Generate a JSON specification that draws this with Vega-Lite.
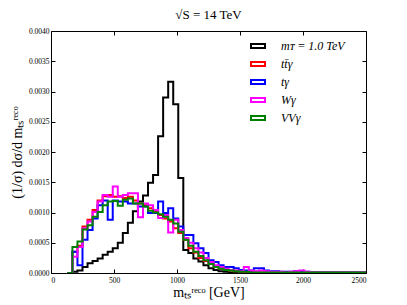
{
"$schema":"https://vega.github.io/schema/vega-lite/v6.json",
"width":315,"height":242,
"autosize":{"type":"none"},
"padding":{"left":51,"top":31,"right":41,"bottom":32},
"title":{"text":"√S = 14 TeV","font":"Liberation Serif","fontSize":13,"fontWeight":"normal","color":"#000","offset":5},
"data":{"values":[
{"s":"K","x":130,"y":0},{"s":"K","x":170,"y":0.00002},{"s":"K","x":210,"y":0.00004},{"s":"K","x":250,"y":0.0001},{"s":"K","x":290,"y":0.00016},{"s":"K","x":330,"y":0.0002},{"s":"K","x":370,"y":0.00024},{"s":"K","x":410,"y":0.0003},{"s":"K","x":450,"y":0.00035},{"s":"K","x":490,"y":0.00041},{"s":"K","x":530,"y":0.0005},{"s":"K","x":570,"y":0.00066},{"s":"K","x":610,"y":0.00083},{"s":"K","x":650,"y":0.00102},{"s":"K","x":690,"y":0.00118},{"s":"K","x":730,"y":0.00128},{"s":"K","x":770,"y":0.00149},{"s":"K","x":810,"y":0.00162},{"s":"K","x":850,"y":0.00226},{"s":"K","x":890,"y":0.0029},{"s":"K","x":930,"y":0.00316},{"s":"K","x":970,"y":0.00279},{"s":"K","x":1010,"y":0.00157},{"s":"K","x":1050,"y":0.00038},{"s":"K","x":1090,"y":0.00033},{"s":"K","x":1130,"y":0.00024},{"s":"K","x":1170,"y":0.00019},{"s":"K","x":1210,"y":0.00013},{"s":"K","x":1250,"y":0.00008},{"s":"K","x":1290,"y":0.00005},{"s":"K","x":1330,"y":0.00003},{"s":"K","x":1370,"y":0.00002},{"s":"K","x":1410,"y":0.00001},{"s":"K","x":1450,"y":0},{"s":"K","x":2500,"y":0},
{"s":"R","x":130,"y":0},{"s":"R","x":170,"y":0.00035},{"s":"R","x":210,"y":0.00045},{"s":"R","x":250,"y":0.00077},{"s":"R","x":290,"y":0.00088},{"s":"R","x":330,"y":0.00104},{"s":"R","x":370,"y":0.0012},{"s":"R","x":410,"y":0.00127},{"s":"R","x":450,"y":0.00129},{"s":"R","x":490,"y":0.00126},{"s":"R","x":530,"y":0.00127},{"s":"R","x":570,"y":0.00124},{"s":"R","x":610,"y":0.00126},{"s":"R","x":650,"y":0.0012},{"s":"R","x":690,"y":0.00115},{"s":"R","x":730,"y":0.00112},{"s":"R","x":770,"y":0.00107},{"s":"R","x":810,"y":0.00101},{"s":"R","x":850,"y":0.00096},{"s":"R","x":890,"y":0.0009},{"s":"R","x":930,"y":0.00085},{"s":"R","x":970,"y":0.00074},{"s":"R","x":1010,"y":0.00066},{"s":"R","x":1050,"y":0.00055},{"s":"R","x":1090,"y":0.00041},{"s":"R","x":1130,"y":0.00034},{"s":"R","x":1170,"y":0.00025},{"s":"R","x":1210,"y":0.0002},{"s":"R","x":1250,"y":0.00015},{"s":"R","x":1290,"y":0.0001},{"s":"R","x":1330,"y":0.00007},{"s":"R","x":1370,"y":0.00005},{"s":"R","x":1410,"y":0.00004},{"s":"R","x":1450,"y":0.00003},{"s":"R","x":1490,"y":0.00003},{"s":"R","x":1530,"y":0.00002},{"s":"R","x":1570,"y":0.00002},{"s":"R","x":1610,"y":0.00002},{"s":"R","x":1650,"y":0.00001},{"s":"R","x":2490,"y":0.00001},{"s":"R","x":2500,"y":0},
{"s":"B","x":130,"y":0},{"s":"B","x":170,"y":0.00035},{"s":"B","x":210,"y":0.00013},{"s":"B","x":250,"y":0.00055},{"s":"B","x":290,"y":0.00071},{"s":"B","x":330,"y":0.0009},{"s":"B","x":370,"y":0.00112},{"s":"B","x":410,"y":0.0012},{"s":"B","x":450,"y":0.00088},{"s":"B","x":490,"y":0.0012},{"s":"B","x":530,"y":0.00118},{"s":"B","x":570,"y":0.00118},{"s":"B","x":610,"y":0.00115},{"s":"B","x":650,"y":0.00115},{"s":"B","x":690,"y":0.0011},{"s":"B","x":730,"y":0.0011},{"s":"B","x":770,"y":0.00099},{"s":"B","x":810,"y":0.00099},{"s":"B","x":850,"y":0.00118},{"s":"B","x":890,"y":0.00099},{"s":"B","x":930,"y":0.00107},{"s":"B","x":970,"y":0.0009},{"s":"B","x":1010,"y":0.00077},{"s":"B","x":1050,"y":0.00063},{"s":"B","x":1090,"y":0.00063},{"s":"B","x":1130,"y":0.00049},{"s":"B","x":1170,"y":0.00041},{"s":"B","x":1210,"y":0.00033},{"s":"B","x":1250,"y":0.00021},{"s":"B","x":1290,"y":0.00018},{"s":"B","x":1330,"y":0.00013},{"s":"B","x":1370,"y":0.0001},{"s":"B","x":1410,"y":0.0001},{"s":"B","x":1450,"y":0.00008},{"s":"B","x":1490,"y":0.00005},{"s":"B","x":1530,"y":0.00004},{"s":"B","x":1570,"y":0.00004},{"s":"B","x":1610,"y":0.00008},{"s":"B","x":1650,"y":0.00008},{"s":"B","x":1690,"y":0.00004},{"s":"B","x":1730,"y":0.00003},{"s":"B","x":1770,"y":0.00003},{"s":"B","x":1810,"y":0.00002},{"s":"B","x":1850,"y":0.00002},{"s":"B","x":1890,"y":0.00002},{"s":"B","x":1930,"y":0.00003},{"s":"B","x":1970,"y":0.00002},{"s":"B","x":2010,"y":0.00002},{"s":"B","x":2050,"y":0.00001},{"s":"B","x":2490,"y":0.00001},{"s":"B","x":2500,"y":0},
{"s":"M","x":130,"y":0},{"s":"M","x":170,"y":0.00027},{"s":"M","x":210,"y":0.00043},{"s":"M","x":250,"y":0.00074},{"s":"M","x":290,"y":0.00085},{"s":"M","x":330,"y":0.00101},{"s":"M","x":370,"y":0.00118},{"s":"M","x":410,"y":0.00129},{"s":"M","x":450,"y":0.00126},{"s":"M","x":490,"y":0.00143},{"s":"M","x":530,"y":0.00126},{"s":"M","x":570,"y":0.00129},{"s":"M","x":610,"y":0.00132},{"s":"M","x":650,"y":0.00132},{"s":"M","x":690,"y":0.00092},{"s":"M","x":730,"y":0.00115},{"s":"M","x":770,"y":0.00112},{"s":"M","x":810,"y":0.00104},{"s":"M","x":850,"y":0.00091},{"s":"M","x":890,"y":0.00096},{"s":"M","x":930,"y":0.00067},{"s":"M","x":970,"y":0.00088},{"s":"M","x":1010,"y":0.00071},{"s":"M","x":1050,"y":0.00058},{"s":"M","x":1090,"y":0.0005},{"s":"M","x":1130,"y":0.00041},{"s":"M","x":1170,"y":0.00034},{"s":"M","x":1210,"y":0.00025},{"s":"M","x":1250,"y":0.00018},{"s":"M","x":1290,"y":0.00013},{"s":"M","x":1330,"y":0.0001},{"s":"M","x":1370,"y":0.00007},{"s":"M","x":1410,"y":0.00005},{"s":"M","x":1450,"y":0.00004},{"s":"M","x":1490,"y":0.00003},{"s":"M","x":1530,"y":0.0001},{"s":"M","x":1570,"y":0.00004},{"s":"M","x":1610,"y":0.00003},{"s":"M","x":1650,"y":0.00004},{"s":"M","x":1690,"y":0.00003},{"s":"M","x":1730,"y":0.00002},{"s":"M","x":1770,"y":0.00002},{"s":"M","x":1810,"y":0.00002},{"s":"M","x":1850,"y":0.00001},{"s":"M","x":1890,"y":0.00002},{"s":"M","x":1930,"y":0.00003},{"s":"M","x":1970,"y":0.00004},{"s":"M","x":2010,"y":0.00002},{"s":"M","x":2050,"y":0.00001},{"s":"M","x":2490,"y":0.00001},{"s":"M","x":2500,"y":0},
{"s":"G","x":130,"y":0},{"s":"G","x":170,"y":0.00043},{"s":"G","x":210,"y":0.00052},{"s":"G","x":250,"y":0.00072},{"s":"G","x":290,"y":0.00079},{"s":"G","x":330,"y":0.00093},{"s":"G","x":370,"y":0.00101},{"s":"G","x":410,"y":0.00112},{"s":"G","x":450,"y":0.00118},{"s":"G","x":490,"y":0.00119},{"s":"G","x":530,"y":0.00111},{"s":"G","x":570,"y":0.00121},{"s":"G","x":610,"y":0.00123},{"s":"G","x":650,"y":0.00115},{"s":"G","x":690,"y":0.00115},{"s":"G","x":730,"y":0.0011},{"s":"G","x":770,"y":0.00103},{"s":"G","x":810,"y":0.001},{"s":"G","x":850,"y":0.00097},{"s":"G","x":890,"y":0.00093},{"s":"G","x":930,"y":0.00088},{"s":"G","x":970,"y":0.00082},{"s":"G","x":1010,"y":0.00068},{"s":"G","x":1050,"y":0.00055},{"s":"G","x":1090,"y":0.00045},{"s":"G","x":1130,"y":0.00035},{"s":"G","x":1170,"y":0.00028},{"s":"G","x":1210,"y":0.00021},{"s":"G","x":1250,"y":0.00015},{"s":"G","x":1290,"y":0.0001},{"s":"G","x":1330,"y":0.00007},{"s":"G","x":1370,"y":0.00005},{"s":"G","x":1410,"y":0.00004},{"s":"G","x":1450,"y":0.00003},{"s":"G","x":1490,"y":0.00002},{"s":"G","x":1530,"y":0.00002},{"s":"G","x":1570,"y":0.00001},{"s":"G","x":2490,"y":0.00001},{"s":"G","x":2500,"y":0}
]},
"layer":[
{"mark":{"type":"line","interpolate":"step-after","strokeWidth":2,"clip":true},
 "encoding":{
  "x":{"field":"x","type":"quantitative","scale":{"domain":[0,2500],"nice":false},
       "axis":{"orient":"bottom","values":[0,500,1000,1500,2000,2500],"format":"d","tickSize":-4,"labelPadding":7,"title":"mₜₛʳᵉᶜᵒ [GeV]","titleFontSize":14,"titlePadding":2}},
  "y":{"field":"y","type":"quantitative","scale":{"domain":[0,0.004],"nice":false},
       "axis":{"orient":"left","values":[0,0.0005,0.001,0.0015,0.002,0.0025,0.003,0.0035,0.004],"format":".4f","tickSize":-4,"labelPadding":6,"title":"(1/σ) dσ/d mₜₛʳᵉᶜᵒ","titleFontSize":14,"titlePadding":4}},
  "color":{"field":"s","type":"nominal","sort":["K","R","B","M","G"],
   "scale":{"domain":["K","R","B","M","G"],"range":["#000000","#ff0000","#0000ff","#ff00ff","#008000"]},
   "legend":{"orient":"none","legendX":201,"legendY":9,"title":null,"padding":0,
     "labelExpr":"{'K':'mᴛ = 1.0 TeV','R':'tt̄γ','B':'tγ','M':'Wγ','G':'VVγ'}[datum.label]",
     "symbolType":"M-1.4,-0.4H1.4V0.4H-1.4Z","symbolSize":100,"symbolStrokeWidth":2,"symbolFillColor":"transparent",
     "labelOffset":17,"rowPadding":6,"labelFont":"Liberation Serif","labelFontSize":12,"labelFontStyle":"italic","labelColor":"#000"}}
 }},
{"mark":{"type":"line","opacity":0},
 "encoding":{
  "x":{"field":"x","type":"quantitative","axis":{"orient":"top","values":[0,500,1000,1500,2000,2500],"labels":false,"tickSize":-4,"title":null,"domain":false}},
  "y":{"field":"y","type":"quantitative","axis":{"orient":"right","values":[0,0.0005,0.001,0.0015,0.002,0.0025,0.003,0.0035,0.004],"labels":false,"tickSize":-4,"title":null,"domain":false}}
 }}
],
"resolve":{"axis":{"x":"independent","y":"independent"}},
"config":{
 "view":{"stroke":"#000","strokeWidth":1},
 "axis":{"grid":false,"domain":false,"labelFont":"Liberation Serif","labelFontSize":7.5,"labelColor":"#000","tickColor":"#000","titleFont":"Liberation Serif","titleFontWeight":"normal","titleColor":"#000"}
}
}
